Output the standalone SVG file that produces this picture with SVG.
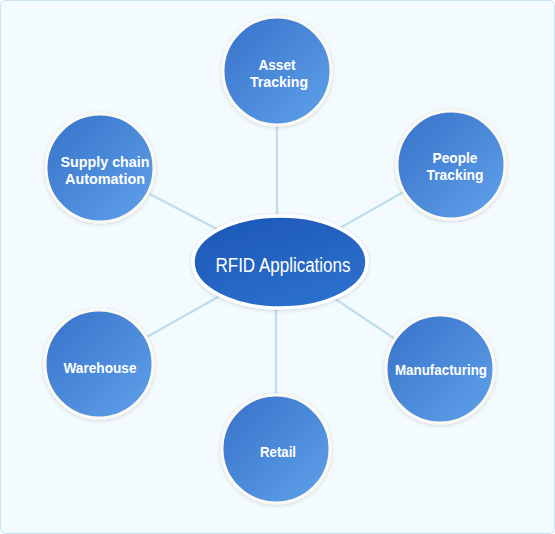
<svg xmlns="http://www.w3.org/2000/svg" width="555" height="534" viewBox="0 0 555 534">
  <defs>
    <linearGradient id="gNode" x1="0" y1="0" x2="1" y2="1">
      <stop offset="0" stop-color="#3671c9"/>
      <stop offset="1" stop-color="#60a2ea"/>
    </linearGradient>
    <linearGradient id="gHub" x1="0" y1="0" x2="0.6" y2="1">
      <stop offset="0" stop-color="#1b56b6"/>
      <stop offset="1" stop-color="#2c6fcc"/>
    </linearGradient>
    <filter id="sh" x="-20%" y="-20%" width="140%" height="140%">
      <feGaussianBlur in="SourceAlpha" stdDeviation="2"/>
      <feOffset dx="0" dy="1" result="b"/>
      <feComponentTransfer><feFuncA type="linear" slope="0.15"/></feComponentTransfer>
      <feMerge><feMergeNode/><feMergeNode in="SourceGraphic"/></feMerge>
    </filter>
  </defs>
  <style>
    .node { fill: url(#gNode); stroke: #fbf9f2; stroke-width: 3; filter: url(#sh); }
    .hub { fill: url(#gHub); stroke: #ffffff; stroke-width: 3.5; filter: url(#sh); }
    .lbl { font-family: "Liberation Sans", Arial, sans-serif; font-weight: bold; font-size: 14.5px; fill: #ffffff; text-anchor: middle; }
    .hubl { font-family: "Liberation Sans", Arial, sans-serif; font-size: 20px; fill: #ffffff; text-anchor: middle; }
    .conn line { stroke: #c3dfee; stroke-width: 2.5; }
  </style>
  <rect x="0.5" y="0.5" width="554" height="533" rx="5" fill="#f3fbfe" stroke="#c9e2ee" stroke-width="1"/>
  <g id="connectors" class="conn">
    <line x1="277" y1="71" x2="277" y2="262"/>
    <line x1="451" y1="165" x2="280" y2="262"/>
    <line x1="100" y1="168" x2="280" y2="262"/>
    <line x1="99" y1="364" x2="280" y2="262"/>
    <line x1="440" y1="369" x2="280" y2="262"/>
    <line x1="276" y1="449" x2="276" y2="262"/>
  </g>
  <g id="asset">
    <circle class="node" cx="277" cy="71" r="54"/>
    <text class="lbl" x="277" y="70" textLength="37" lengthAdjust="spacingAndGlyphs">Asset</text>
    <text class="lbl" x="279" y="87" textLength="58" lengthAdjust="spacingAndGlyphs">Tracking</text>
  </g>
  <g id="people">
    <circle class="node" cx="451" cy="165" r="54"/>
    <text class="lbl" x="455" y="163" textLength="45" lengthAdjust="spacingAndGlyphs">People</text>
    <text class="lbl" x="455" y="180" textLength="57" lengthAdjust="spacingAndGlyphs">Tracking</text>
  </g>
  <g id="supply">
    <circle class="node" cx="100" cy="168" r="54"/>
    <text class="lbl" x="105" y="167" textLength="89" lengthAdjust="spacingAndGlyphs">Supply chain</text>
    <text class="lbl" x="105" y="184" textLength="80" lengthAdjust="spacingAndGlyphs">Automation</text>
  </g>
  <g id="warehouse">
    <circle class="node" cx="99" cy="364" r="54"/>
    <text class="lbl" x="100" y="373" textLength="73" lengthAdjust="spacingAndGlyphs">Warehouse</text>
  </g>
  <g id="manufacturing">
    <circle class="node" cx="440" cy="369" r="54"/>
    <text class="lbl" x="441" y="375" textLength="92" lengthAdjust="spacingAndGlyphs">Manufacturing</text>
  </g>
  <g id="retail">
    <circle class="node" cx="276" cy="449" r="54"/>
    <text class="lbl" x="278" y="457" textLength="36" lengthAdjust="spacingAndGlyphs">Retail</text>
  </g>
  <g id="hub">
    <ellipse class="hub" cx="280" cy="262" rx="87" ry="46"/>
    <text class="hubl" x="283" y="272" textLength="135" lengthAdjust="spacingAndGlyphs">RFID Applications</text>
  </g>
</svg>
